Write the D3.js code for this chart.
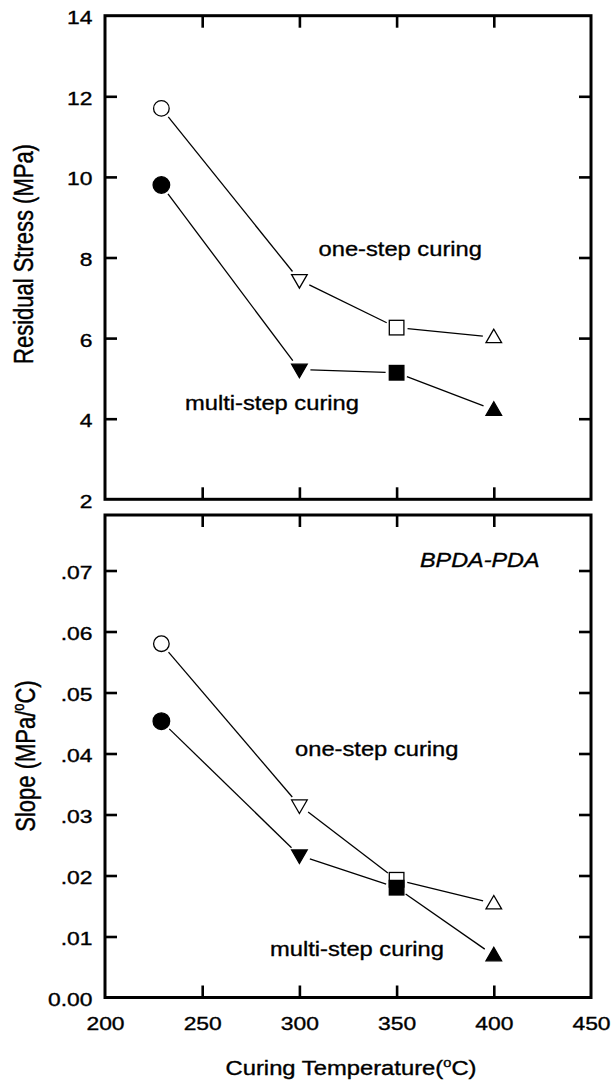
<!DOCTYPE html>
<html><head><meta charset="utf-8">
<script src="https://cdn.jsdelivr.net/npm/d3@7"></script>
<style>body{margin:0;background:#fff}svg{display:block}text{font-family:"Liberation Sans",Arial,sans-serif;fill:#000;stroke:#000;stroke-width:0.35px}</style>
</head><body><svg id="c" width="613" height="1082"></svg>
<script>
// ---- data ----
const temps = [229, 300, 350, 400];
const stressOneStep = [11.70, 7.44, 6.26, 6.02];
const stressMultiStep = [9.80, 5.22, 5.14, 4.22];
const slopeOneStep = [0.0580, 0.0315, 0.0193, 0.0154];
const slopeMultiStep = [0.0453, 0.0233, 0.0180, 0.0069];
const markerShapes = ["circle", "triDown", "square", "triUp"];
const xTickValues = [200, 250, 300, 350, 400, 450];
const stressTickValues = [2, 4, 6, 8, 10, 12, 14];
const slopeTickValues = [0, 0.01, 0.02, 0.03, 0.04, 0.05, 0.06, 0.07];
const slopeTickLabels = ["0.00", ".01", ".02", ".03", ".04", ".05", ".06", ".07"];

const svg = d3.select("#c");
const L = 105, R = 591;
const x = d3.scaleLinear().domain([200, 450]).range([L, R]);
const panels = [
  {top: 15.7, bottom: 499.3, domain: [2, 14], one: stressOneStep, multi: stressMultiStep,
   ticks: stressTickValues, labels: stressTickValues.map(String), title: "Residual Stress (MPa)"},
  {top: 515, bottom: 997.5, domain: [0, 0.0791], one: slopeOneStep, multi: slopeMultiStep,
   ticks: slopeTickValues, labels: slopeTickLabels, title: null}
];
const SX = 1.23, FS = 18.6, TL = 12;

function marker(g, shape, cx, cy, filled) {
  const fill = filled ? "#000" : "#fff";
  const sw = 1.3;
  if (shape === "circle") g.append("circle").attr("cx", cx).attr("cy", cy).attr("r", filled ? 8.3 : 7.8).attr("fill", fill).attr("stroke", "#000").attr("stroke-width", sw);
  else if (shape === "square") g.append("rect").attr("x", cx - 7.3).attr("y", cy - 7.3).attr("width", 14.6).attr("height", 14.6).attr("fill", fill).attr("stroke", "#000").attr("stroke-width", sw);
  else {
    const w = 7.8, h = 13.5, d = shape === "triUp" ? 1 : -1;
    const pts = [[cx, cy - d * h * 0.6], [cx - w, cy + d * h * 0.4], [cx + w, cy + d * h * 0.4]];
    g.append("path").attr("d", "M" + pts.map(p => p.join(",")).join("L") + "Z").attr("fill", fill).attr("stroke", "#000").attr("stroke-width", sw).attr("stroke-linejoin", "miter");
  }
}

function series(g, y, vals, filled) {
  const pts = temps.map((t, i) => [x(t), y(vals[i])]);
  const gap = 11;
  for (let i = 0; i < pts.length - 1; i++) {
    const [x1, y1] = pts[i], [x2, y2] = pts[i + 1];
    const len = Math.hypot(x2 - x1, y2 - y1), ux = (x2 - x1) / len, uy = (y2 - y1) / len;
    g.append("line").attr("x1", x1 + ux * gap).attr("y1", y1 + uy * gap).attr("x2", x2 - ux * gap).attr("y2", y2 - uy * gap)
      .attr("stroke", "#000").attr("stroke-width", 1.3);
  }
  pts.forEach((p, i) => marker(g, markerShapes[i], p[0], p[1], filled));
}

function scaledText(g, str, px, py, fs, sx, anchor, italic) {
  const t = g.append("text").attr("transform", `translate(${px},${py}) scale(${sx},1)`)
    .attr("font-size", fs).attr("text-anchor", anchor || "start").text(str);
  if (italic) t.attr("font-style", "italic");
  return t;
}

panels.forEach((p, pi) => {
  const y = d3.scaleLinear().domain(p.domain).range([p.bottom, p.top]);
  const g = svg.append("g");
  const inner = p.ticks.filter(v => v > p.domain[0] + 1e-9 && v < p.domain[1] - 1e-9 && !(pi === 0 && v === 14));
  const xin = xTickValues.slice(1, -1);
  const tickStyle = sel => { sel.select(".domain").remove(); sel.selectAll("line").attr("stroke", "#000").attr("stroke-width", 2.6); sel.selectAll("text").remove(); };
  g.append("g").attr("transform", `translate(${L},0)`).call(d3.axisLeft(y).tickValues(inner).tickSize(-TL)).call(tickStyle);
  g.append("g").attr("transform", `translate(${R},0)`).call(d3.axisRight(y).tickValues(inner).tickSize(-TL)).call(tickStyle);
  g.append("g").attr("transform", `translate(0,${p.top})`).call(d3.axisTop(x).tickValues(xin).tickSize(-TL)).call(tickStyle);
  g.append("g").attr("transform", `translate(0,${p.bottom})`).call(d3.axisBottom(x).tickValues(xin).tickSize(-TL)).call(tickStyle);
  // y labels
  const ly = g.append("g").attr("transform", `translate(${L},0)`)
    .call(d3.axisLeft(y).tickValues(p.ticks).tickSize(0).tickFormat((d, i) => p.labels[i]));
  ly.select(".domain").remove();
  ly.selectAll("text").each(function () {
    const t = d3.select(this);
    t.attr("x", 0).attr("dy", "0.36em").attr("transform", `translate(-12.5,1.2) scale(${SX},1)`)
      .attr("font-size", FS).attr("font-family", '"Liberation Sans",Arial,sans-serif').attr("fill", "#000");
  });
  // frame
  g.append("rect").attr("x", L).attr("y", p.top).attr("width", R - L).attr("height", p.bottom - p.top)
    .attr("fill", "none").attr("stroke", "#000").attr("stroke-width", 3);
  series(g, y, p.one, false);
  series(g, y, p.multi, true);
  if (pi === 1) {
    const lx = g.append("g").attr("transform", `translate(0,${p.bottom})`)
      .call(d3.axisBottom(x).tickValues(xTickValues).tickSize(0).tickPadding(0));
    lx.select(".domain").remove();
    lx.selectAll("text").each(function () {
      d3.select(this).attr("y", 0).attr("dy", 0).attr("transform", `translate(0,32.5) scale(${SX},1)`)
        .attr("font-size", FS).attr("font-family", '"Liberation Sans",Arial,sans-serif').attr("fill", "#000");
    });
  }
});

// annotations
scaledText(svg, "one-step curing", 318.5, 256, 21, 1.13);
scaledText(svg, "multi-step curing", 185, 410, 21, 1.13);
scaledText(svg, "one-step curing", 295, 755.5, 21, 1.13);
scaledText(svg, "multi-step curing", 270, 956, 21, 1.13);
scaledText(svg, "BPDA-PDA", 420, 567, 20, 1.17, "start", true);

// axis titles
const xt = svg.append("text").attr("transform", "translate(351,1075) scale(1.22,1)").attr("font-size", 19.5).attr("text-anchor", "middle");
xt.append("tspan").text("Curing Temperature(");
xt.append("tspan").attr("font-size", 12).attr("dy", -8).text("o");
xt.append("tspan").attr("dy", 8).text("C)");

svg.append("text").attr("transform", "translate(33,254) scale(1.22,1) rotate(-90)").attr("font-size", 22).attr("text-anchor", "middle")
  .text(panels[0].title);
const yt = svg.append("text").attr("transform", "translate(35,756) scale(1.22,1) rotate(-90)").attr("font-size", 22).attr("text-anchor", "middle");
yt.append("tspan").text("Slope (MPa/");
yt.append("tspan").attr("font-size", 13).attr("dy", -9).text("o");
yt.append("tspan").attr("dy", 9).text("C)");
</script></body></html>
